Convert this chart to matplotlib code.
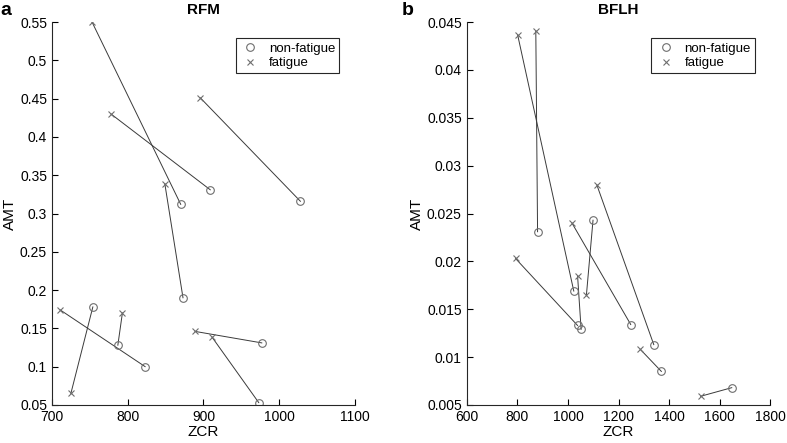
import numpy as np
import matplotlib
matplotlib.use("Agg")
import matplotlib.pyplot as plt
from matplotlib.ticker import FuncFormatter

plt.rcParams['font.family'] = ['Liberation Sans', 'DejaVu Sans']

# RFM panel: fatigue (x) -> non-fatigue (o) pairs
rfm_zcr_nf = [870, 909, 1028, 873, 823, 754, 787, 977, 973]
rfm_amt_nf = [0.312, 0.331, 0.316, 0.190, 0.100, 0.178, 0.128, 0.131, 0.053]
rfm_zcr_f = [753, 778, 896, 849, 711, 725, 793, 889, 911]
rfm_amt_f = [0.550, 0.430, 0.451, 0.339, 0.174, 0.065, 0.170, 0.146, 0.139]

# BFLH panel
bflh_zcr_nf = [1023, 880, 1339, 1248, 1038, 1052, 1099, 1369, 1647]
bflh_amt_nf = [0.0169, 0.0231, 0.0113, 0.0134, 0.0133, 0.0129, 0.0243, 0.0085, 0.0068]
bflh_zcr_f = [801, 873, 1114, 1016, 793, 1038, 1073, 1286, 1524]
bflh_amt_f = [0.0437, 0.0441, 0.0280, 0.0240, 0.0203, 0.0185, 0.0165, 0.0108, 0.0059]

fig = plt.figure(figsize=(7.87, 4.43), dpi=100)
ax1 = fig.add_axes([0.066, 0.086, 0.385, 0.864])
ax2 = fig.add_axes([0.593, 0.086, 0.386, 0.864])

line_col = "#3a3a3a"
mk_col = "#6e6e6e"


def panel(ax, zn, an, zf, af, title, xlim, xticks, ylim, yticks):
    for i in range(len(zn)):
        ax.plot([zf[i], zn[i]], [af[i], an[i]], color=line_col, lw=0.7, zorder=1)
    ax.plot(zn, an, 'o', ms=5.5, mfc='none', mec=mk_col, mew=0.8, ls='none',
            label='non-fatigue', zorder=2)
    ax.plot(zf, af, 'x', ms=4, mec=mk_col, mew=0.8, ls='none',
            label='fatigue', zorder=2)
    ax.set_xlim(xlim)
    ax.set_ylim(ylim)
    ax.set_xticks(xticks)
    ax.set_yticks(yticks)
    ax.yaxis.set_major_formatter(FuncFormatter(lambda v, p: '%g' % round(v, 4)))
    ax.tick_params(direction='in', labelsize=10, length=4, width=0.8)
    ax.spines['top'].set_visible(False)
    ax.spines['right'].set_visible(False)
    for s in ['left', 'bottom']:
        ax.spines[s].set_linewidth(0.8)
        ax.spines[s].set_color('#262626')
    ax.set_xlabel('ZCR', fontsize=11, labelpad=1)
    ax.set_ylabel('AMT', fontsize=11, labelpad=2)
    ax.set_title(title, fontsize=11, fontweight='bold', pad=6)
    leg = ax.legend(loc='upper right', bbox_to_anchor=(0.97, 0.975), fontsize=9.5,
                    fancybox=False, edgecolor='#262626', framealpha=1,
                    handlelength=1.6, handletextpad=0.6, borderpad=0.3,
                    labelspacing=0.2)
    leg.get_frame().set_linewidth(0.8)


panel(ax1, rfm_zcr_nf, rfm_amt_nf, rfm_zcr_f, rfm_amt_f, 'RFM',
      (700, 1100), [700, 800, 900, 1000, 1100],
      (0.05, 0.55), np.arange(0.05, 0.551, 0.05))
panel(ax2, bflh_zcr_nf, bflh_amt_nf, bflh_zcr_f, bflh_amt_f, 'BFLH',
      (600, 1800), [600, 800, 1000, 1200, 1400, 1600, 1800],
      (0.005, 0.045), np.arange(0.005, 0.0451, 0.005))

fig.text(0.001, 0.995, 'a', fontsize=14, fontweight='bold', va='top')
fig.text(0.511, 0.995, 'b', fontsize=14, fontweight='bold', va='top')

fig.savefig('out.png', dpi=100)
